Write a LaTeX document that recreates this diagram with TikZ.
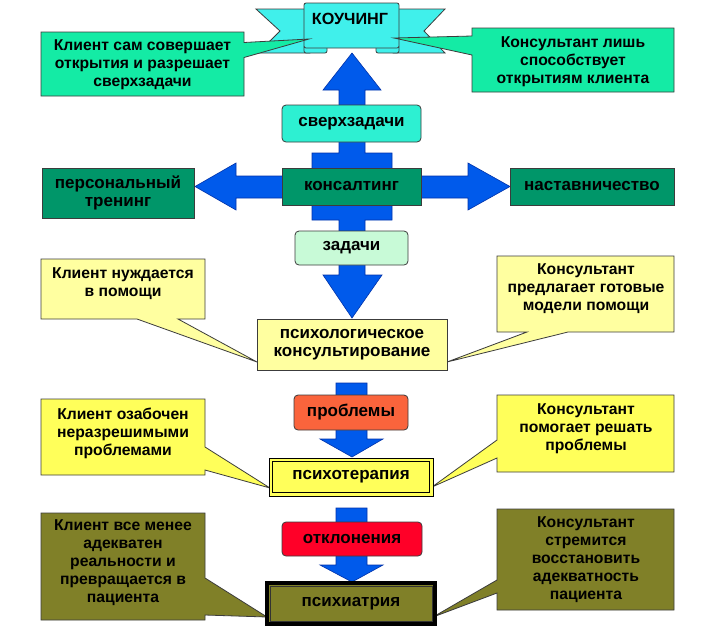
\documentclass[tikz,border=0pt]{standalone}
\usepackage{fontspec}
\setmainfont{Liberation Sans}
\usetikzlibrary{calc}
\definecolor{bannerc}{RGB}{64,240,235}
\definecolor{aqua}{RGB}{20,235,165}
\definecolor{sverhc}{RGB}{45,240,210}
\definecolor{dgreen}{RGB}{0,150,105}
\definecolor{zadc}{RGB}{200,250,215}
\definecolor{blueA}{RGB}{0,90,235}
\definecolor{blueL}{RGB}{0,50,170}
\definecolor{paley}{RGB}{255,255,160}
\definecolor{yel}{RGB}{255,255,90}
\definecolor{orng}{RGB}{250,100,60}
\definecolor{redd}{RGB}{255,0,40}
\definecolor{olivec}{RGB}{128,128,40}
\definecolor{edgec}{RGB}{60,60,60}
\begin{document}
\begin{tikzpicture}[x=1pt,y=-1pt,
  txt/.style={font=\bfseries\fontsize{15.7}{18}\selectfont, align=center, inner sep=0pt},
  ctxt/.style={font=\bfseries\fontsize{17}{18.5}\selectfont, align=center, inner sep=0pt},
  box/.style={draw=edgec, line width=0.8pt, inner sep=0pt, ctxt},
  callout/.style={draw=edgec, line width=0.8pt},
  blk/.style={fill=blueA, draw=blueL, line width=0.6pt},
  bannerst/.style={fill=bannerc, draw=edgec, line width=0.8pt}]
\useasboundingbox[fill=white] (0,0) rectangle (722,633);

% blue cross and arrows
\draw[blk] (352,53) -- (381,90) -- (365,90) -- (365,153) -- (392,153) -- (392,176)
  -- (468,176) -- (468,163) -- (510,186.5) -- (468,210) -- (468,198) -- (392,198)
  -- (392,220) -- (365,220) -- (365,275) -- (382,275) -- (352,318) -- (323,275)
  -- (339,275) -- (339,220) -- (312,220) -- (312,198) -- (236,198) -- (236,210)
  -- (195,186.5) -- (236,163) -- (236,176) -- (312,176) -- (312,153) -- (339,153)
  -- (339,90) -- (323,90) -- cycle;
\draw[blk] (336,383) -- (367,383) -- (367,439) -- (383,439) -- (352,457) -- (320,439) -- (336,439) -- cycle;
\draw[blk] (336,508) -- (367,508) -- (367,565) -- (383,565) -- (352,582) -- (320,565) -- (336,565) -- cycle;

% banner
\draw[bannerst] (310,9) -- (256,9) -- (280,31) -- (258,53) -- (310,53) -- cycle;
\draw[bannerst] (393,9) -- (445,9) -- (424,31) -- (445,53) -- (393,53) -- cycle;
\draw[bannerst, rounded corners=2pt] (304,45) rectangle (327,53);
\draw[bannerst, rounded corners=2pt] (376,45) rectangle (399,53);
\draw[bannerst, rounded corners=2pt] (304,3) rectangle (399,48);
\node[txt, font=\bfseries\fontsize{16.2}{18}\selectfont] (coach) at (350,18.5) {КОУЧИНГ};

% green callouts
\draw[callout, fill=aqua] (41,32) -- (244,32) -- (244,42.5) -- (309,39) -- (244,57.5) -- (244,96) -- (41,96) -- cycle;
\node[txt] (c1) at (142.5,65) {Клиент сам совершает\\открытия и разрешает\\сверхзадачи};
\draw[callout, fill=aqua] (472,28) -- (674,28) -- (674,92) -- (472,92) -- (472,55) -- (394,38) -- (472,36) -- cycle;
\node[txt] (c2) at (573,62) {Консультант лишь\\способствует\\открытиям клиента};

% central boxes
\node[box, fill=sverhc, rounded corners=4pt, minimum width=139pt, minimum height=37pt] (sverh) at (351.5,123.5) {сверхзадачи};
\node[box, fill=dgreen, minimum width=139pt, minimum height=37pt] (kons) at (351.5,186.5) {консалтинг};
\node[box, fill=dgreen, minimum width=152pt, minimum height=50pt] (pers) at (118,193) {персональный\\тренинг};
\node[box, fill=dgreen, minimum width=164pt, minimum height=37pt] (nast) at (592,186.5) {наставничество};
\node[box, fill=zadc, rounded corners=4pt, minimum width=113pt, minimum height=34pt] (zad) at (351.5,248) {задачи};

% yellow callouts (level 1)
\draw[callout, fill=paley] (41,259) -- (205,259) -- (205,319) -- (178,319) -- (257,362) -- (137,319) -- (41,319) -- cycle;
\node[txt] (c3) at (123,284) {Клиент нуждается\\в помощи};
\draw[callout, fill=paley] (497,256) -- (674,256) -- (674,332) -- (568,332) -- (447,362) -- (527,332) -- (497,332) -- cycle;
\node[txt] (c4) at (586,289) {Консультант\\предлагает готовые\\модели помощи};
\node[box, fill=paley, minimum width=190pt, minimum height=51pt] (psk) at (352,344.5) {психологическое\\консультирование};

% level 2
\node[box, fill=orng, rounded corners=4pt, minimum width=114pt, minimum height=35pt] (probl) at (351,412.5) {проблемы};
\draw[callout, fill=yel] (41,399) -- (205,399) -- (205,447) -- (270,488) -- (205,470) -- (205,475) -- (41,475) -- cycle;
\node[txt] (c5) at (123,433) {Клиент озабочен\\неразрешимыми\\проблемами};
\draw[callout, fill=yel] (497,395) -- (674,395) -- (674,472) -- (497,472) -- (497,458) -- (432,487) -- (497,440) -- cycle;
\node[txt] (c6) at (586,429) {Консультант\\помогает решать\\проблемы};
\node[box, draw=black, fill=yel, minimum width=164pt, minimum height=38pt] (pst) at (351,477) {психотерапия};
\draw[black, line width=0.8pt] ($(pst.north west)+(4,4)$) rectangle ($(pst.south east)+(-4,-4)$);

% level 3
\node[box, fill=redd, rounded corners=4pt, minimum width=140pt, minimum height=34pt] (otkl) at (352,539) {отклонения};
\draw[callout, fill=olivec] (41,513) -- (205,513) -- (205,578) -- (267,617) -- (205,615) -- (205,620) -- (41,620) -- cycle;
\node[txt] (c7) at (123,563) {Клиент все менее\\адекватен\\реальности и\\превращается в\\пациента};
\draw[callout, fill=olivec] (497,509) -- (674,509) -- (674,610) -- (497,610) -- (497,593) -- (433,617) -- (497,580) -- cycle;
\node[txt] (c8) at (586,560) {Консультант\\стремится\\восстановить\\адекватность\\пациента};
\node[box, draw=black, line width=4pt, fill=olivec, minimum width=168pt, minimum height=41pt] (psi) at (351,603.5) {психиатрия};
\draw[black!80, line width=1pt] ($(psi.north west)+(5,5)$) rectangle ($(psi.south east)+(-5,-5)$);
\end{tikzpicture}
\end{document}
